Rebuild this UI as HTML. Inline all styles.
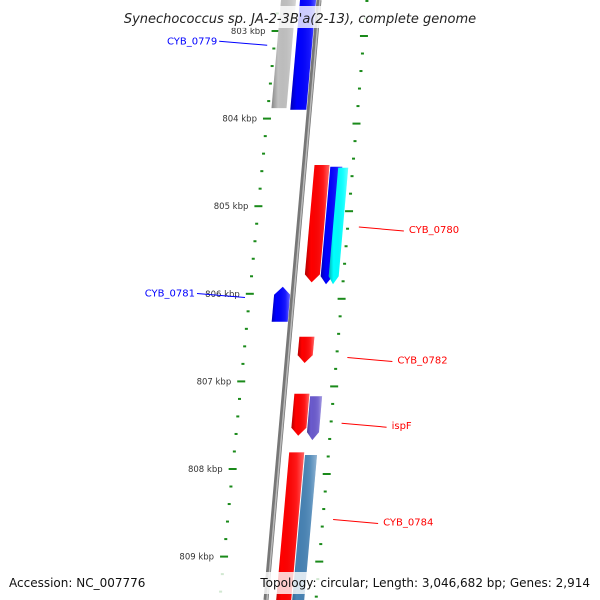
<!DOCTYPE html>
<html><head><meta charset="utf-8"><style>
html,body{margin:0;padding:0;background:#fff;overflow:hidden;width:600px;height:600px;}
svg{display:block;overflow:hidden;font-family:"DejaVu Sans","Liberation Sans",sans-serif;}
</style></head><body>
<svg id="chart" width="600" height="600" viewBox="0 0 600 600" xmlns="http://www.w3.org/2000/svg">
<defs>
<linearGradient id="shade" x1="0" y1="0" x2="1" y2="0">
<stop offset="0" stop-color="#000" stop-opacity="0.3"/>
<stop offset="0.25" stop-color="#000" stop-opacity="0"/>
<stop offset="0.75" stop-color="#fff" stop-opacity="0.1"/>
<stop offset="1" stop-color="#fff" stop-opacity="0.4"/>
</linearGradient>
<clipPath id="frame"><rect x="0" y="0" width="600" height="600"/></clipPath>
</defs>
<g clip-path="url(#frame)">
<g id="ticks"></g>
<line x1="319" y1="0" x2="266" y2="600" stroke="#777" stroke-width="5"/>
<line x1="320" y1="0" x2="267" y2="600" stroke="#bbb" stroke-width="1.5"/>
<g id="genes"></g>
<g id="labels"></g>
</g>
<rect x="0" y="6" width="600" height="22" fill="#fff" fill-opacity="0.8"/>
<text x="300" y="23" text-anchor="middle" font-size="13" font-style="italic" fill="#222">Synechococcus sp. JA-2-3B'a(2-13), complete genome</text>
<rect x="0" y="572" width="600" height="22" fill="#fff" fill-opacity="0.8"/>
<text x="9" y="587" font-size="12" fill="#111">Accession: NC_007776</text>
<text x="590" y="587" text-anchor="end" font-size="12" fill="#111">Topology: circular; Length: 3,046,682 bp; Genes: 2,914</text>
</svg>
<script>
const majorTicks = [803, 804, 805, 806, 807, 808, 809];
const tickLabels = ["803 kbp","804 kbp","805 kbp","806 kbp","807 kbp","808 kbp","809 kbp"];
const geneNames = ["gray-gene","CYB_0779","CYB_0780","CYB_0780b","CYB_0780c","CYB_0781","CYB_0782","ispF","ispF-b","CYB_0784","CYB_0784b"];
const geneStart = [802.4, 802.4, 804.53, 804.55, 804.56, 805.92, 806.49, 807.14, 807.17, 807.81, 807.84];
const geneEnd =   [803.88, 803.9, 805.87, 805.89, 805.89, 806.32, 806.79, 807.62, 807.67, 809.9, 809.9];
const geneStrand = [-1, -1, 1, 1, 1, -1, 1, 1, 1, 1, 1];
const geneLane = [-2, -1, 1, 2, 3, -1, 1, 1, 2, 1, 2];
const geneColor = ["#c0c0c0","#0000ff","#ff0000","#0000ff","#00ffff","#0000ff","#ff0000","#ff0000","#6a5acd","#ff0000","#4682b4"];
const labelText = ["CYB_0779","CYB_0780","CYB_0781","CYB_0782","ispF","CYB_0784"];
const labelPos = [803.14, 805.26, 806.02, 806.75, 807.5, 808.6];
const labelSide = [-1, 1, -1, 1, 1, 1];
const labelColor = ["#0000ff","#ff0000","#0000ff","#ff0000","#ff0000","#ff0000"];

const NS="http://www.w3.org/2000/svg";
const yOf = k => 31 + (k - 803) * 87.6;
const bb = y => 319 - 0.088 * y;
const laneOff = {"-2":[-38,-23], "-1":[-19,-3], "1":[10,25], "2":[26,38], "3":[34,44]};
function mk(tag, attrs, parent){const e=document.createElementNS(NS,tag);for(const k in attrs)e.setAttribute(k,attrs[k]);parent.appendChild(e);return e;}

const tg=document.getElementById('ticks');
for(let i=0;i<=45;i++){
  const k=802.4+i*0.2;
  const y=yOf(k);
  if(y>598) break;
  const isMajor=Math.abs(k-Math.round(k))<0.01;
  const xl=278.6-0.098*y;
  const xr=367-0.085*(y+5);
  const w=isMajor?8:3;
  const t1=mk('rect',{x:xl-w/2,y:y-1,width:w,height:2,fill:'#1a8a1a'},tg);
  
  
  if(y+5<598){
    const t2=mk('rect',{x:xr-w/2,y:y+4,width:w,height:2,fill:'#1a8a1a'},tg);
    
    
  }
}
majorTicks.forEach((k,i)=>{
  const y=yOf(k);const xl=278.6-0.098*y;
  const t=mk('text',{x:xl-10,y:y+3,'text-anchor':'end','font-size':'8.5',fill:'#333'},tg);
  t.textContent=tickLabels[i];
  
  
});

const gg=document.getElementById('genes');
geneNames.forEach((n,i)=>{
  const y1=yOf(geneStart[i]), y2=yOf(geneEnd[i]);
  const [o1,o2]=laneOff[geneLane[i]];
  const a=Math.min(8,(y2-y1)*0.3);
  let pts;
  const L=y=>bb(y)+o1, R=y=>bb(y)+o2;
  if(geneStrand[i]>0){
    const ya=y2-a, m=(L(y2)+R(y2))/2;
    pts=[[L(y1),y1],[R(y1),y1],[R(ya),ya],[m,y2],[L(ya),ya]];
  } else {
    const ya=y1+a, m=(L(y1)+R(y1))/2;
    pts=[[m,y1],[R(ya),ya],[R(y2),y2],[L(y2),y2],[L(ya),ya]];
  }
  const p=pts.map(q=>q[0].toFixed(1)+','+q[1].toFixed(1)).join(' ');
  const g=mk('g',{},gg);
  
  
  mk('polygon',{points:p,fill:geneColor[i]},g);
  mk('polygon',{points:p,fill:'url(#shade)'},g);
});

const lg=document.getElementById('labels');
labelText.forEach((t,i)=>{
  const y=yOf(labelPos[i]);
  const g=mk('g',{},lg);
  
  
  if(labelSide[i]<0){
    const x2=bb(y)-48;
    mk('line',{x1:x2-48,y1:y-2,x2:x2,y2:y+2,stroke:labelColor[i],'stroke-width':1},g);
    const tx=mk('text',{x:x2-50,y:y+1,'text-anchor':'end','font-size':'10',fill:labelColor[i]},g);
    tx.textContent=t;
  } else {
    const x1=bb(y)+60;
    mk('line',{x1:x1,y1:y-2,x2:x1+45,y2:y+2,stroke:labelColor[i],'stroke-width':1},g);
    const tx=mk('text',{x:x1+50,y:y+4,'font-size':'10',fill:labelColor[i]},g);
    tx.textContent=t;
  }
});
</script>
</body></html>
